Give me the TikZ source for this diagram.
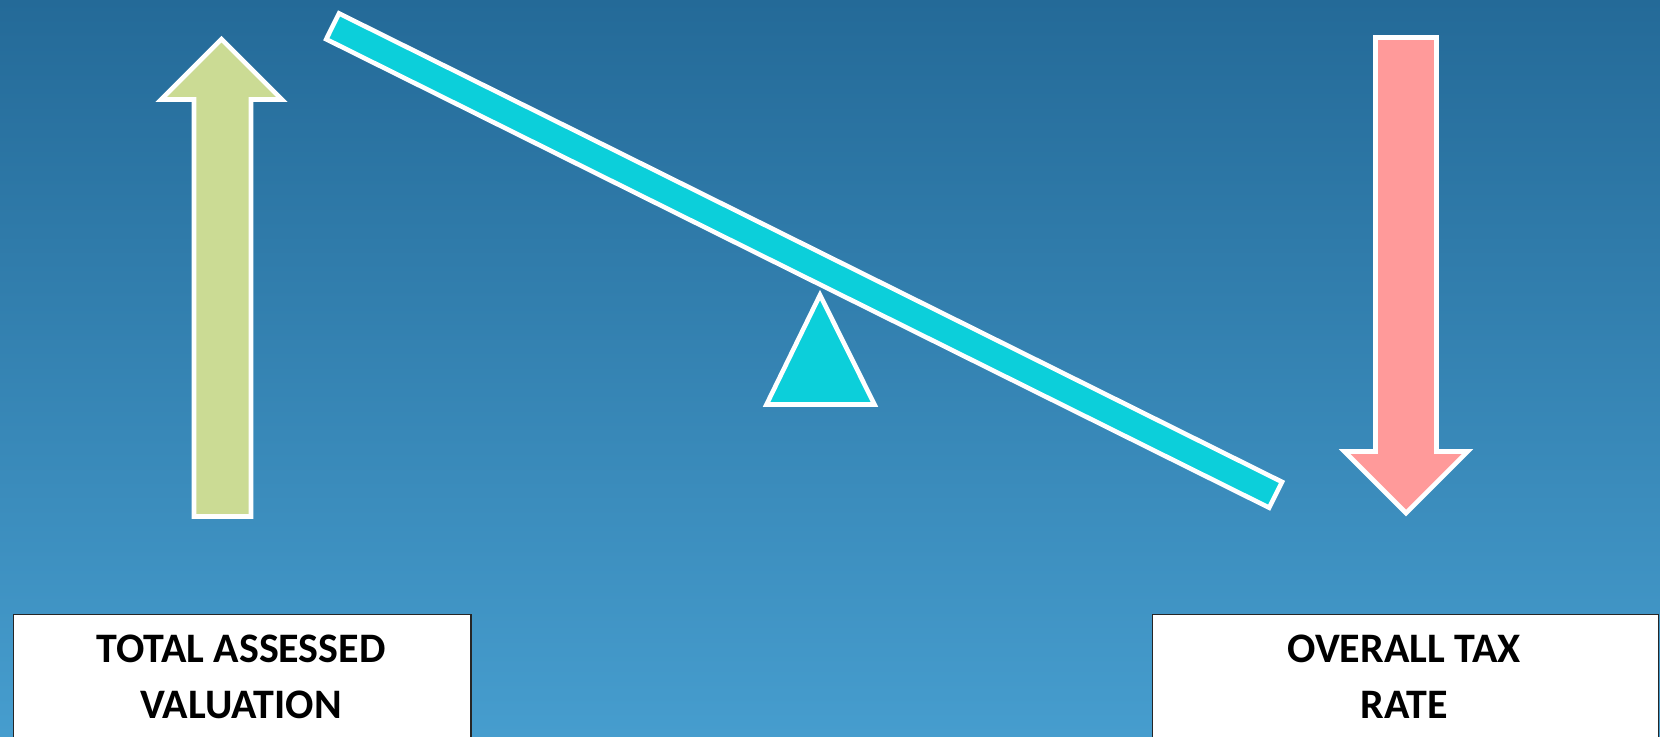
\documentclass[tikz,border=0pt]{standalone}
\usepackage{fontspec}
\setmainfont{Carlito}
\definecolor{bgtop}{HTML}{246A98}
\definecolor{bgbot}{HTML}{469DCE}
\definecolor{upgreen}{HTML}{CBDB94}
\definecolor{downred}{HTML}{FF9A9A}
\definecolor{beamcyan}{HTML}{0CCFDA}
\begin{document}
\begin{tikzpicture}[x=0.5pt,y=-0.5pt,
  outline/.style={draw=white, line width=2.3pt, miter limit=10},
  labelbox/.style={draw=black!85, fill=white, line width=0.8pt, rectangle, inner sep=0, anchor=north west},
  labeltext/.style={font=\fontsize{21}{28}\selectfont\bfseries, align=center, inner sep=0, text=black}]
\useasboundingbox (0,0) rectangle (1660,736);
\clip (0,0) rectangle (1660,736);
\shade[top color=bgtop, bottom color=bgbot] (0,0) rectangle (1660,736);
% up arrow
\draw[outline, fill=upgreen] (194,516.5) -- (194,99.5) -- (161,99.5) -- (221.5,39) -- (282,99.5) -- (251,99.5) -- (251,516.5) -- cycle;
% down arrow
\draw[outline, fill=downred] (1375.5,37.5) -- (1436.5,37.5) -- (1436.5,451.5) -- (1467.5,451.5) -- (1406,513) -- (1344.5,451.5) -- (1375.5,451.5) -- cycle;
% fulcrum
\draw[outline, fill=beamcyan] (766.5,404.5) -- (820,295) -- (874.5,404.5) -- cycle;
% beam
\node[outline, fill=beamcyan, rectangle, minimum width=526.5pt, minimum height=14.4pt, inner sep=0, rotate=-26.42] (beam) at (804.1,260.55) {};
% boxes
\node[labelbox, minimum width=228.75pt, minimum height=70pt] (lbox) at (12.5,613.5) {};
\node[labelbox, minimum width=253pt, minimum height=70pt] (rbox) at (1151.5,613.5) {};
\node[labeltext] (ltext) at (241,677) {TOTAL ASSESSED\\VALUATION};
\node[labeltext] (rtext) at (1404,677) {OVERALL TAX\\RATE};
\end{tikzpicture}
\end{document}
